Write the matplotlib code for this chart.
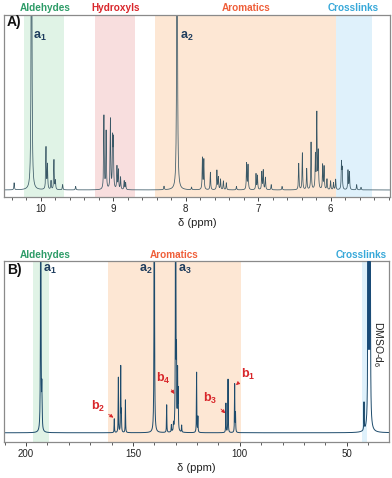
import numpy as np
import matplotlib
matplotlib.use("Agg")
import matplotlib.pyplot as plt
from matplotlib.ticker import MultipleLocator
from matplotlib.transforms import blended_transform_factory

# ---------------- data ----------------
# 1H NMR (panel A): peak positions (ppm), heights (rel.)
h_ppm = [10.37, 10.13, 10.12, 9.93, 9.91, 9.86, 9.82, 9.80, 9.70, 9.52,
         9.13, 9.10, 9.04, 9.01, 9.00, 8.95, 8.93, 8.90, 8.85, 8.83, 8.30,
         8.12, 8.125, 7.92, 7.77, 7.75, 7.66, 7.57, 7.55, 7.52, 7.48, 7.44, 7.30,
         7.16, 7.14, 7.03, 7.01, 6.95, 6.93, 6.90, 6.82, 6.67,
         6.44, 6.39, 6.33, 6.27, 6.21, 6.19, 6.17, 6.11, 6.09, 6.05, 6.00, 5.96,
         5.93, 5.85, 5.84, 5.76, 5.74, 5.64, 5.58]
h_int = [0.04, 3.0, 0.06, 0.24, 0.14, 0.05, 0.17, 0.05, 0.03, 0.02,
         0.42, 0.33, 0.40, 0.27, 0.26, 0.13, 0.11, 0.07, 0.05, 0.04, 0.02,
         3.0, 0.06, 0.015, 0.18, 0.17, 0.10, 0.11, 0.07, 0.06, 0.05, 0.04, 0.02,
         0.15, 0.14, 0.09, 0.08, 0.10, 0.11, 0.07, 0.03, 0.02,
         0.15, 0.21, 0.12, 0.27, 0.19, 0.43, 0.21, 0.14, 0.13, 0.06, 0.05, 0.04,
         0.06, 0.15, 0.11, 0.11, 0.10, 0.03, 0.015]
h_wid = 0.0045

# 13C NMR (panel B)
c_ppm = [193.1, 192.6, 192.4, 158.7, 156.8, 155.7, 155.4, 153.5, 140.0,
         134.2, 132.0, 131.0, 130.0, 129.6, 129.1, 128.8, 127.2, 120.2, 119.6,
         106.5, 105.5, 102.4, 102.0, 41.9,
         40.1, 39.9, 39.7, 39.5, 39.3, 39.1, 38.9]
c_int = [3.0, 0.21, 0.05, 0.08, 0.32, 0.38, 0.11, 0.19, 3.0,
         0.16, 0.04, 0.04, 3.0, 0.38, 0.33, 0.22, 0.04, 0.35, 0.09,
         0.17, 0.31, 0.28, 0.11, 0.16,
         0.5, 1.5, 3.0, 3.5, 3.0, 1.5, 0.5]
c_wid = 0.09
dmso_ppm = 39.6

# shaded regions: (name, ppm_high, ppm_low, label_ppm)
regions_A = [("Aldehydes", 10.23, 9.68, 9.94),
             ("Hydroxyls", 9.25, 8.70, 8.97),
             ("Aromatics", 8.42, 5.93, 7.17),
             ("Crosslinks", 5.93, 5.43, 5.69)]
regions_B = [("Aldehydes", 196.6, 189.2, 191.0),
             ("Aromatics", 161.5, 99.6, 130.7),
             ("Crosslinks", 42.7, 40.6, 43.0)]

region_style = {"Aldehydes": ("#2e9c68", "#e0f3e6"),
                "Hydroxyls": ("#d9262b", "#f8dede"),
                "Aromatics": ("#ef5f3a", "#fde7d4"),
                "Crosslinks": ("#37a8d9", "#dff1fb")}

# b-labels: (text, text_ppm, text_yfrac, tip_ppm, tip_yfrac)
b_labels = [(r"b$_\mathbf{2}$", 166.5, 0.193, 159.1, 0.133),
            (r"b$_\mathbf{4}$", 135.8, 0.350, 130.6, 0.264),
            (r"b$_\mathbf{3}$", 113.9, 0.240, 106.8, 0.157),
            (r"b$_\mathbf{1}$", 96.0, 0.372, 101.8, 0.313)]

# a-labels: (text, ppm, ha)
a_labels_A = [(r"a$_\mathbf{1}$", 10.11, 'left'), (r"a$_\mathbf{2}$", 8.08, 'left')]
a_labels_B = [(r"a$_\mathbf{1}$", 192.2, 'left'), (r"a$_\mathbf{2}$", 141.0, 'right'),
              (r"a$_\mathbf{3}$", 129.0, 'left')]

xlim_A = (10.51, 5.18)
xlim_B = (210.3, 30.2)


def spectrum(grid, pos, hts, w):
    y = np.zeros_like(grid)
    for p, h in zip(pos, hts):
        y += h * w**2 / ((grid - p)**2 + w**2)
    return y


plt.rcParams['font.family'] = ['Liberation Sans', 'DejaVu Sans']
plt.rcParams['mathtext.fontset'] = 'custom'
plt.rcParams['mathtext.rm'] = 'Liberation Sans'
plt.rcParams['mathtext.it'] = 'Liberation Sans:italic'
plt.rcParams['mathtext.bf'] = 'Liberation Sans:bold'
plt.rcParams['mathtext.default'] = 'regular'

fig = plt.figure(figsize=(3.92, 4.78), dpi=100)
axA = fig.add_axes([0.0102, 0.5879, 0.9847, 0.3807])
axB = fig.add_axes([0.0102, 0.0759, 0.9822, 0.3787])

spine_col = "#8a8a8a"
line_A = "#3a5866"
line_B = "#1d4b6c"
alab = "#1f3d5e"

for ax in (axA, axB):
    for s in ax.spines.values():
        s.set_color(spine_col)
        s.set_linewidth(0.9)
    ax.set_yticks([])
    ax.tick_params(axis='x', which='major', length=3, width=0.7, color="#444444",
                   labelsize=7, labelcolor="#222222", pad=2)
    ax.tick_params(axis='x', which='minor', length=1.8, width=0.6, color="#444444")

# ----- Panel A -----
gA = np.linspace(xlim_A[1], xlim_A[0], 30000)
yA = spectrum(gA, h_ppm, h_int, h_wid)
trA = blended_transform_factory(axA.transData, axA.transAxes)
for name, hi, lo, lp in regions_A:
    tc, fc = region_style[name]
    axA.axvspan(lo, hi, color=fc, lw=0, zorder=0)
    axA.text(lp, 1.038, name, transform=trA, ha='center', va='center',
             color=tc, fontsize=7.2, fontweight='bold')
axA.plot(gA, yA, color=line_A, lw=0.55, zorder=2)
axA.set_xlim(*xlim_A)
axA.set_ylim(-0.04, 1.0)
axA.xaxis.set_major_locator(MultipleLocator(1))
axA.xaxis.set_minor_locator(MultipleLocator(0.2))
axA.set_xlabel("δ (ppm)", fontsize=8, color="#222222", labelpad=3)
axA.text(0.008, 0.962, "A)", transform=axA.transAxes, fontsize=10,
         fontweight='bold', va='center', ha='left', color="#111111")
for txt, px, ha in a_labels_A:
    axA.text(px, 0.88, txt, transform=trA, fontsize=9, fontweight='bold',
             color=alab, ha=ha, va='center')

# ----- Panel B -----
gB = np.linspace(xlim_B[1], xlim_B[0], 60000)
yB = spectrum(gB, c_ppm, c_int, c_wid)
trB = blended_transform_factory(axB.transData, axB.transAxes)
for name, hi, lo, lp in regions_B:
    tc, fc = region_style[name]
    axB.axvspan(lo, hi, color=fc, lw=0, zorder=0)
    axB.text(lp, 1.03, name, transform=trB, ha='center', va='center',
             color=tc, fontsize=7.2, fontweight='bold')
axB.plot(gB, yB, color=line_B, lw=0.7, zorder=2)
axB.axvline(dmso_ppm, ymin=0.52, ymax=1.0, color="#174a78", lw=2.6, zorder=3)
axB.set_xlim(*xlim_B)
axB.set_ylim(-0.052, 1.0)
axB.xaxis.set_major_locator(MultipleLocator(50))
axB.xaxis.set_minor_locator(MultipleLocator(10))
axB.set_xlabel("δ (ppm)", fontsize=8, color="#222222", labelpad=3)
axB.text(0.008, 0.95, "B)", transform=axB.transAxes, fontsize=10,
         fontweight='bold', va='center', ha='left', color="#111111")
for txt, px, ha in a_labels_B:
    axB.text(px, 0.954, txt, transform=trB, fontsize=9, fontweight='bold',
             color=alab, ha=ha, va='center')
for txt, tx, ty, px, py in b_labels:
    axB.annotate(txt, xy=(px, py), xycoords=trB, xytext=(tx, ty), textcoords=trB,
                 ha='center', va='center', fontsize=9, fontweight='bold',
                 color="#d8262a",
                 arrowprops=dict(arrowstyle='-|>', color="#d8262a", lw=0.6,
                                 mutation_scale=5, shrinkA=1, shrinkB=0))
axB.text(35.5, 0.54, "DMSO-d$_6$", transform=trB, rotation=270, fontsize=7.5,
         ha='center', va='center', color="#222222")

fig.savefig("out.png", dpi=100)
